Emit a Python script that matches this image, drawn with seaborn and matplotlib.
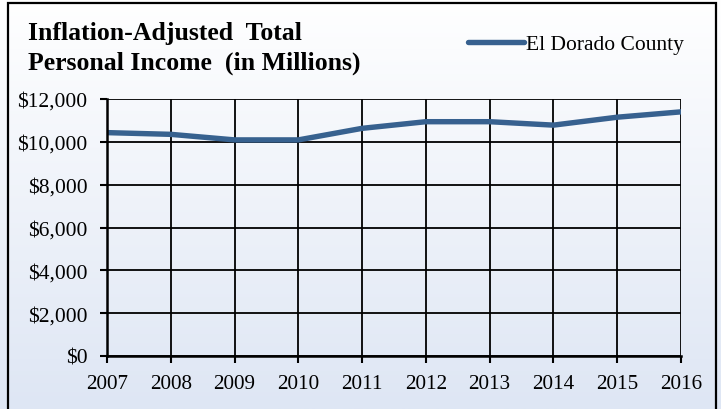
import numpy as np
import pandas as pd
import matplotlib
matplotlib.use("Agg")
import matplotlib.pyplot as plt
import seaborn as sns
from matplotlib.patches import Rectangle
from matplotlib.ticker import FuncFormatter

years = [2007, 2008, 2009, 2010, 2011, 2012, 2013, 2014, 2015, 2016]
income = [10430, 10350, 10090, 10090, 10630, 10940, 10940, 10780, 11150, 11400]
series_name = "El Dorado County"
title_lines = ["Inflation-Adjusted  Total", "Personal Income  (in Millions)"]
y_ticks = [0, 2000, 4000, 6000, 8000, 10000, 12000]

df = pd.DataFrame({"Year": years, "Income": income, "Series": series_name})

sns.set_theme(style="white")
plt.rcParams["font.family"] = ["Liberation Serif", "DejaVu Serif"]
plt.rcParams["text.color"] = "black"

fig = plt.figure(figsize=(7.21, 4.10), dpi=100)

# gradient background
bg = fig.add_axes([0, 0, 1, 1], zorder=-10)
grad = np.linspace(0, 1, 256).reshape(-1, 1)
top = np.array([1.0, 1.0, 1.0])
bot = np.array([222, 230, 244]) / 255.0
img = top[None, None, :] * (1 - grad[:, :, None]) + bot[None, None, :] * grad[:, :, None]
bg.imshow(img, aspect="auto", extent=[0, 1, 0, 1])
bg.set_axis_off()

# outer frame
fig.patches.append(Rectangle((8 / 721, -0.05), 708 / 721, 1.05 - 4 / 410,
                             transform=fig.transFigure, fill=False,
                             edgecolor="black", linewidth=1.6, zorder=5))

ax = fig.add_axes([107 / 721, 1 - 357 / 410, (681 - 107) / 721, (357 - 100) / 410])
ax.set_facecolor("none")

sns.lineplot(data=df, x="Year", y="Income", hue="Series", palette=["#37618f"],
             linewidth=3.9, ax=ax, legend=True)

ax.set_xlim(2007, 2016)
ax.set_ylim(0, 12000)
ax.set_xticks(years)
ax.set_yticks(y_ticks)
ax.yaxis.set_major_formatter(FuncFormatter(lambda v, p: f"${v:,.0f}"))
ax.grid(True, color="black", linewidth=1.3)
ax.set_axisbelow(True)
for s in ["top", "right"]:
    ax.spines[s].set_visible(False)
for s in ["left", "bottom"]:
    ax.spines[s].set_color("black")
    ax.spines[s].set_linewidth(1.8)
ax.tick_params(axis="both", which="major", direction="out", length=5, width=1.5,
               color="black", labelcolor="black")
ax.tick_params(axis="y", pad=9, labelsize=15.5)
ax.tick_params(axis="x", pad=8, labelsize=15.2)
ax.tick_params(left=True, bottom=True)
ax.set_xlabel("")
ax.set_ylabel("")

leg = ax.legend(loc="center left", bbox_to_anchor=(468 / 721, 1 - 45 / 410),
                bbox_transform=fig.transFigure, frameon=False, fontsize=15.5,
                handlelength=2.6, handletextpad=0.08, borderpad=0, borderaxespad=0)
for t in leg.get_texts():
    t.set_color("black")

fig.text(28 / 721, 1 - 40 / 410, title_lines[0], fontsize=18.5, fontweight="bold",
         va="baseline", ha="left", color="black")
fig.text(28 / 721, 1 - 70 / 410, title_lines[1], fontsize=18.5, fontweight="bold",
         va="baseline", ha="left", color="black")

fig.savefig("out.png", dpi=100)
